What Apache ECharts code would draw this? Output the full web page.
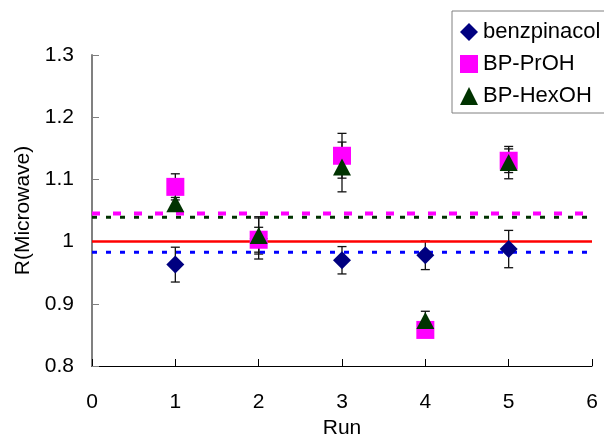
<!DOCTYPE html>
<html><head><meta charset="utf-8">
<script src="https://cdn.jsdelivr.net/npm/echarts@6/dist/echarts.min.js"></script>
<style>html,body{margin:0;padding:0;background:#fff}#c{width:604px;height:434px}</style>
</head><body><div id="c"></div>
<script>
var runs = [1, 2, 3, 4, 5];
var benzpinacol = [0.963, 1.005, 0.970, 0.978, 0.988];
var benzpinacolErr = [0.028, 0.033, 0.022, 0.023, 0.030];
var bpPrOH = [1.088, 1.003, 1.138, 0.858, 1.130];
var bpPrOHErr = [0.021, 0.020, 0.036, 0.010, 0.019];
var bpHexOH = [1.061, 1.010, 1.120, 0.873, 1.127];
var bpHexOHErr = [0.010, 0.030, 0.040, 0.015, 0.026];
var meanBenz = 0.983, meanPrOH = 1.045, meanHexOH = 1.039, reference = 1.0;
var xTicks = [0, 1, 2, 3, 4, 5, 6];
var yTicks = [0.8, 0.9, 1.0, 1.1, 1.2, 1.3];

var FONT = 'Liberation Sans, Arial, sans-serif';
function pts(v){ return runs.map(function(r,i){return [r, v[i]];}); }
function errData(v,e){ return runs.map(function(r,i){return [r, v[i]-e[i], v[i]+e[i]];}); }
function errSeries(v,e){
  return {type:'custom', data: errData(v,e), z:1, silent:true,
    renderItem:function(params, api){
      var lo = api.coord([api.value(0), api.value(1)]);
      var hi = api.coord([api.value(0), api.value(2)]);
      var w = 4.5;
      var st = {stroke:'#111', lineWidth:1.3};
      return {type:'group', children:[
        {type:'line', shape:{x1:lo[0],y1:lo[1],x2:hi[0],y2:hi[1]}, style:st},
        {type:'line', shape:{x1:lo[0]-w,y1:lo[1],x2:lo[0]+w,y2:lo[1]}, style:st},
        {type:'line', shape:{x1:hi[0]-w,y1:hi[1],x2:hi[0]+w,y2:hi[1]}, style:st}
      ]};
    }};
}
function hline(y, color, type, width, z){
  return {type:'line', data:[[0,y],[6,y]], symbol:'none', silent:true, z:z,
    lineStyle:{color:color, type:type, width:width}};
}
var chart = echarts.init(document.getElementById('c'));
chart.setOption({
  animation:false,
  backgroundColor:'#fff',
  grid:{left:92, right:12, top:55, bottom:68, containLabel:false, outerBoundsMode:'none'},
  legend:{
    orient:'vertical', left:452, top:11, itemGap:10,
    padding:[10,20,6,8], borderColor:'#808080', borderWidth:1,
    itemWidth:18, itemHeight:18,
    textStyle:{fontFamily:FONT, fontSize:22, color:'#000'},
    data:[{name:'benzpinacol', icon:'diamond'},{name:'BP-PrOH', icon:'rect'},{name:'BP-HexOH', icon:'triangle'}]
  },
  xAxis:{type:'value', min:0, max:6, interval:1,
    name:'Run', nameLocation:'middle', nameGap:48,
    nameTextStyle:{fontFamily:FONT, fontSize:21, color:'#000'},
    axisLine:{lineStyle:{color:'#000', width:1}},
    axisTick:{inside:true, length:7, lineStyle:{color:'#000'}},
    axisLabel:{margin:26, fontFamily:FONT, fontSize:21, color:'#000'},
    splitLine:{show:false}},
  yAxis:{type:'value', min:0.8, max:1.3, interval:0.1,
    name:'R(Microwave)', nameLocation:'middle', nameGap:56,
    nameTextStyle:{fontFamily:FONT, fontSize:21, color:'#000'},
    axisLine:{show:true, lineStyle:{color:'#808080', width:2}},
    axisTick:{show:true, inside:true, length:7, lineStyle:{color:'#808080'}},
    axisLabel:{margin:18, fontFamily:FONT, fontSize:21, color:'#000', padding:[6,0,0,0],
      formatter:function(v){ return String(Math.round(v*10)/10); }},
    splitLine:{show:false}},
  series:[
    hline(meanHexOH, '#003300', [5,9], 3, 2),
    hline(meanPrOH, '#ff00ff', [8,13], 4, 2),
    hline(meanBenz, '#0000ff', [5,9], 3, 2),
    hline(reference, '#ff0000', 'solid', 2.5, 2),
    errSeries(benzpinacol, benzpinacolErr),
    errSeries(bpPrOH, bpPrOHErr),
    errSeries(bpHexOH, bpHexOHErr),
    {name:'benzpinacol', type:'scatter', symbol:'diamond', symbolSize:18, z:3,
      itemStyle:{color:'#000080', opacity:1}, data:pts(benzpinacol)},
    {name:'BP-PrOH', type:'scatter', symbol:'rect', symbolSize:18, z:4,
      itemStyle:{color:'#ff00ff', opacity:1}, data:pts(bpPrOH)},
    {name:'BP-HexOH', type:'scatter', symbol:'triangle', symbolSize:[18,17], z:5,
      itemStyle:{color:'#003300', opacity:1}, data:pts(bpHexOH)}
  ]
});
</script></body></html>
